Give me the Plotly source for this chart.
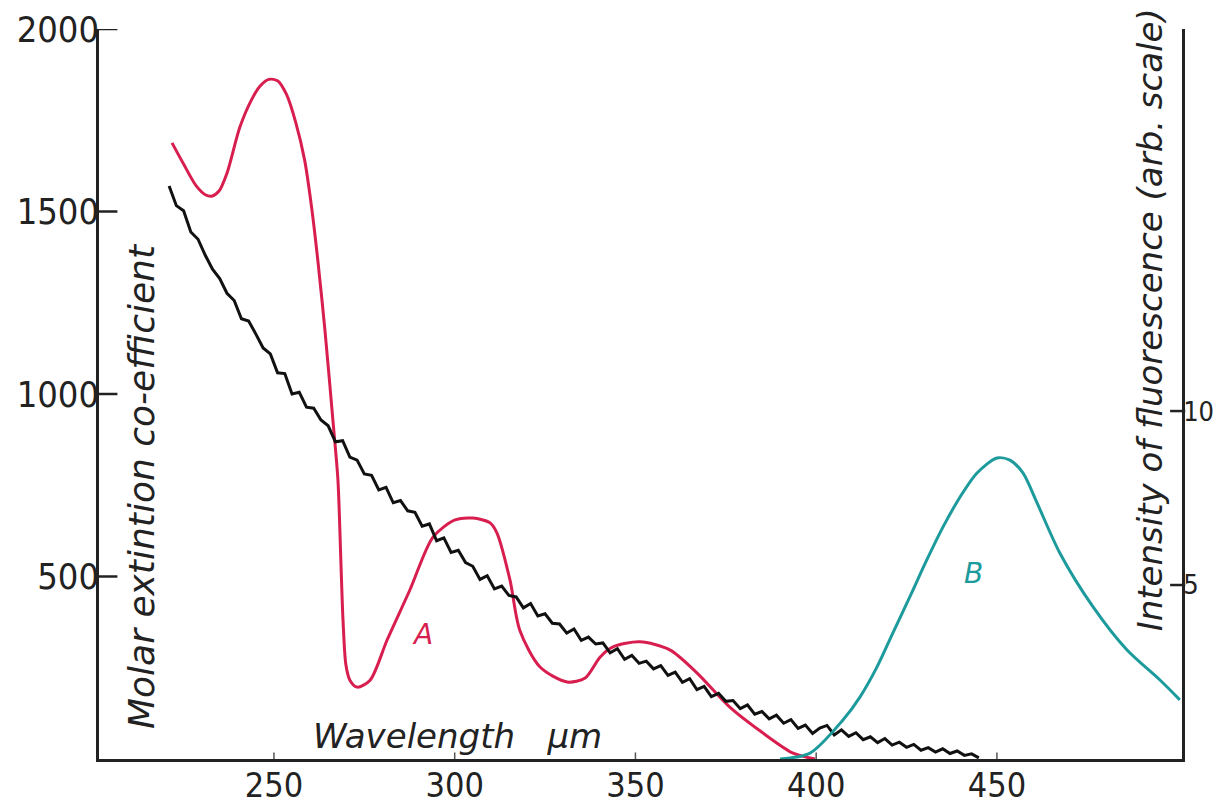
import plotly.graph_objects as go

# Absorption spectrum A (molar extinction coefficient, left axis)
a_wl = [221.8, 225.0, 228.5, 231.0, 232.8, 234.8, 237.0, 240.6, 244.0, 246.3,
        248.6, 251.0, 253.5, 256.0, 258.5, 260.5, 262.2, 264.1, 266.3, 267.7,
        268.5, 269.1, 269.9, 271.0, 273.0, 276.6, 281.3, 287.6, 294.0, 300.1,
        305.0, 309.8, 311.7, 315.3, 318.0, 323.6, 331.1, 336.1, 340.2, 343.8,
        351.2, 359.5, 367.0, 376.1, 385.3, 393.6, 399.7]
a_eps = [1688, 1630, 1570, 1546, 1542, 1556, 1605, 1732, 1810, 1845,
         1862, 1858, 1820, 1745, 1640, 1505, 1360, 1175, 929, 764,
         545, 381, 258, 216, 197, 216, 326, 463, 608, 655,
         660, 647, 619, 490, 353, 252, 211, 222, 279, 307,
         321, 299, 236, 142, 71, 16, 0]

# Noisy recorder trace (left axis)
n_wl = [221, 223, 225, 227, 229, 231, 233, 235, 237, 239, 241, 243, 245, 247, 249,
        251, 253, 255, 257, 259, 261, 263, 265, 267, 269, 271, 273, 275, 277, 279,
        281, 283, 285, 287, 289, 291, 293, 295, 297, 299, 301, 303, 305, 307, 309,
        311, 313, 315, 317, 319, 321, 323, 325, 327, 329, 331, 333, 335, 337, 339,
        341, 343, 345, 347, 349, 351, 353, 355, 357, 359, 361, 363, 365, 367, 369,
        371, 373, 375, 377, 379, 381, 383, 385, 387, 389, 391, 393, 395, 397, 399,
        401, 403, 405, 407, 409, 411, 413, 415, 417, 419, 421, 423, 425, 427, 429,
        431, 433, 435, 437, 439, 441, 443, 445]
n_eps = [1570, 1516, 1502, 1444, 1424, 1380, 1342, 1316, 1276, 1256, 1206, 1200, 1164, 1126, 1110,
         1058, 1056, 1000, 1005, 964, 961, 929, 913, 869, 872, 827, 819, 781, 777, 737,
         744, 702, 708, 680, 676, 638, 644, 598, 606, 566, 572, 538, 528, 492, 502,
         466, 474, 448, 444, 414, 426, 392, 398, 372, 370, 345, 356, 325, 334, 315,
         318, 291, 302, 273, 284, 262, 268, 247, 256, 229, 238, 210, 220, 190, 199,
         171, 180, 158, 160, 138, 148, 123, 130, 110, 120, 98, 108, 84, 93, 70,
         85, 92, 66, 80, 62, 72, 53, 61, 45, 56, 38, 46, 32, 40, 24,
         31, 19, 28, 15, 22, 10, 14, 3]

# Fluorescence emission B (right axis, arbitrary units)
b_wl = [390.0, 398.3, 407.4, 412.1, 416.8, 421.2, 425.9, 430.6, 435.1, 439.8,
        444.5, 450.0, 453.6, 457.2, 461.1, 467.4, 476.6, 486.0, 495.1, 500.6]
b_int = [0.0, 0.17, 1.12, 1.78, 2.64, 3.62, 4.66, 5.72, 6.67, 7.53,
         8.22, 8.65, 8.59, 8.22, 7.36, 5.92, 4.37, 3.13, 2.27, 1.70]

x_ticks = [250, 300, 350, 400, 450]
left_ticks = [500, 1000, 1500, 2000]
right_ticks = [5, 10]

RED = "#d81e4f"
TEAL = "#1c9a9c"
INK = "#222222"
DIGITS = "DejaVu Sans Condensed, Liberation Sans Narrow, DejaVu Sans, sans-serif"
TEXT = "DejaVu Sans, sans-serif"

fig = go.Figure()
fig.add_trace(go.Scatter(x=a_wl, y=a_eps, mode="lines",
                         line=dict(color=RED, width=3, shape="spline", smoothing=0.8),
                         showlegend=False))
fig.add_trace(go.Scatter(x=n_wl, y=n_eps, mode="lines",
                         line=dict(color="#111111", width=3),
                         showlegend=False))
fig.add_trace(go.Scatter(x=b_wl, y=b_int, mode="lines", yaxis="y2",
                         line=dict(color=TEAL, width=3, shape="spline", smoothing=0.8),
                         showlegend=False))

axis_common = dict(showgrid=False, zeroline=False, showline=True, automargin=False,
                   linecolor=INK, linewidth=2.5, ticks="")

fig.update_layout(
    width=1219, height=811,
    margin=dict(l=99, r=37, t=29, b=52, autoexpand=False),
    paper_bgcolor="white", plot_bgcolor="white",
    xaxis=dict(range=[201.6, 501.2], tickmode="array", tickvals=x_ticks,
               ticklabelstandoff=-6,
               tickfont=dict(family=DIGITS, size=34, color=INK), **axis_common),
    yaxis=dict(range=[0, 2000], tickmode="array", tickvals=left_ticks,
               ticklabelstandoff=-10,
               tickfont=dict(family=DIGITS, size=36, color=INK), **axis_common),
    yaxis2=dict(range=[0, 20.98], tickmode="array", tickvals=right_ticks,
                overlaying="y", side="right", ticklabelstandoff=-7,
                tickfont=dict(family=DIGITS, size=27, color=INK), **axis_common),
)

# Short tick strokes drawn inside the frame at each labelled value
for v in left_ticks:
    fig.add_shape(type="line", xref="paper", yref="y", x0=0, x1=0.017, y0=v, y1=v,
                  line=dict(color=INK, width=2.5))
for v in right_ticks:
    fig.add_shape(type="line", xref="paper", yref="y2", x0=0.989, x1=1.003, y0=v, y1=v,
                  line=dict(color=INK, width=2.5))
for v in x_ticks:
    fig.add_shape(type="line", xref="x", yref="paper", x0=v, x1=v, y0=0, y1=0.009,
                  line=dict(color="#555555", width=1.5))

TITLE_FONT = dict(family=TEXT, size=34, color=INK, style="italic")

fig.add_annotation(text="Molar extintion co-efficient", xref="paper", yref="paper",
                   x=0.0397, y=0.374, xanchor="center", yanchor="middle",
                   textangle=-90, showarrow=False,
                   font=dict(family=TEXT, size=36, color=INK, style="italic"))
fig.add_annotation(text="Intensity of fluorescence (arb. scale)", xref="paper", yref="paper",
                   x=0.9705, y=0.601, xanchor="center", yanchor="middle",
                   textangle=-90, showarrow=False, font=TITLE_FONT)
fig.add_annotation(text="Wavelength   μm", xref="paper", yref="paper",
                   x=0.331, y=0.031, xanchor="center", yanchor="middle",
                   showarrow=False, font=TITLE_FONT)
fig.add_annotation(text="A", x=291.2, y=340, showarrow=False,
                   font=dict(family=TEXT, size=28, color=RED, style="italic"))
fig.add_annotation(text="B", x=443.4, y=5.34, yref="y2", showarrow=False,
                   font=dict(family=TEXT, size=28, color=TEAL, style="italic"))

fig.write_html("out.html")
